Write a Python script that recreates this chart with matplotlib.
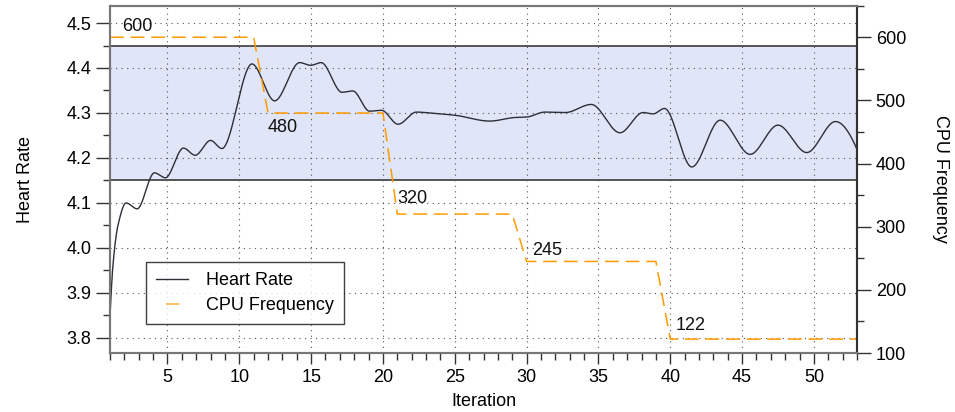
import numpy as np
import matplotlib
matplotlib.use("Agg")
import matplotlib.pyplot as plt
from matplotlib.lines import Line2D
from matplotlib.ticker import MultipleLocator

plt.rcParams['font.family'] = ['Liberation Sans', 'DejaVu Sans']

# heart rate samples (iteration, value)
hr_iter = [1.0, 1.2, 1.55, 2.12, 2.89, 4.09, 4.86, 6.11, 6.93, 8.0, 8.79,
           10.88, 12.46, 14.2, 14.97, 15.7, 17.15, 17.9, 19.07, 19.9, 21.05,
           22.33, 23.6, 25.0, 27.44, 29.2, 30.0, 31.27, 32.7, 34.5, 36.5,
           38.1, 38.8, 39.6, 41.5, 43.47, 45.56, 47.5, 49.5, 51.5, 53.0]
hr_value = [3.848, 3.96, 4.05, 4.100, 4.087, 4.167, 4.156, 4.222, 4.206, 4.239, 4.221,
            4.409, 4.327, 4.412, 4.406, 4.412, 4.346, 4.349, 4.304, 4.306, 4.275,
            4.302, 4.299, 4.295, 4.282, 4.290, 4.291, 4.302, 4.301, 4.319, 4.256,
            4.301, 4.298, 4.310, 4.180, 4.284, 4.208, 4.273, 4.212, 4.281, 4.219]

# CPU frequency steps: first and last iteration of each level
step_first = [1, 12, 21, 30, 40]
step_last = [11, 20, 29, 39, 53]
step_freq = [600, 480, 320, 245, 122]
label_offsets = [(12, 11), (0, -14), (0, 16), (6, 11), (5, 14)]

# target heart rate band
band_low, band_high = 4.15, 4.45


def pchip(x, y, xn):
    # shape preserving cubic through the samples
    x = np.asarray(x, float)
    y = np.asarray(y, float)
    h = np.diff(x)
    d = np.diff(y) / h
    n = len(x)
    m = np.zeros(n)
    for k in range(1, n - 1):
        if d[k - 1] * d[k] > 0:
            w1 = 2 * h[k] + h[k - 1]
            w2 = h[k] + 2 * h[k - 1]
            m[k] = (w1 + w2) / (w1 / d[k - 1] + w2 / d[k])
    m[0] = ((2 * h[0] + h[1]) * d[0] - h[0] * d[1]) / (h[0] + h[1])
    if np.sign(m[0]) != np.sign(d[0]):
        m[0] = 0
    m[-1] = ((2 * h[-1] + h[-2]) * d[-1] - h[-1] * d[-2]) / (h[-1] + h[-2])
    if np.sign(m[-1]) != np.sign(d[-1]):
        m[-1] = 0
    idx = np.clip(np.searchsorted(x, xn) - 1, 0, n - 2)
    t = (xn - x[idx]) / h[idx]
    h00 = 2 * t**3 - 3 * t**2 + 1
    h10 = t**3 - 2 * t**2 + t
    h01 = -2 * t**3 + 3 * t**2
    h11 = t**3 - t**2
    return (h00 * y[idx] + h10 * h[idx] * m[idx]
            + h01 * y[idx + 1] + h11 * h[idx] * m[idx + 1])


iters = np.arange(1, 54)
freq = np.zeros(len(iters))
for a, b, f in zip(step_first, step_last, step_freq):
    freq[(iters >= a) & (iters <= b)] = f

xs = np.linspace(1, 53, 1200)
hr_smooth = pchip(hr_iter, hr_value, xs)

fig = plt.figure(figsize=(9.55, 4.12), dpi=100)
ax = fig.add_axes([0.1152, 0.1432, 0.7822, 0.8430])
ax2 = ax.twinx()

spine_col = '#777777'
tick_col = '#333333'
fs = 13

ax.axhspan(band_low, band_high, color='#e0e5f7', zorder=0.2, lw=0)
ax.axhline(band_low, color='#555555', lw=1.4, zorder=0.6)
ax.axhline(band_high, color='#555555', lw=1.4, zorder=0.6)

hr_line, = ax.plot(xs, hr_smooth, color='#2e2e38', lw=1.0, zorder=2)

ax2.plot(iters, freq, color='#ff9a00', lw=1.1,
         linestyle=(0, (9, 4.5)), zorder=2)
for a, f, off in zip(step_first, step_freq, label_offsets):
    ax2.annotate(str(f), xy=(a, f), xytext=off, textcoords='offset pixels',
                 ha='left', va='center', fontsize=fs, color='#111111')

ax.set_xlim(1, 53)
ax.set_ylim(3.7665, 4.5385)
ax2.set_ylim(100, 650)

ax.xaxis.set_major_locator(MultipleLocator(5))
ax.xaxis.set_minor_locator(MultipleLocator(1))
ax.yaxis.set_major_locator(MultipleLocator(0.1))
ax.yaxis.set_minor_locator(MultipleLocator(0.05))
ax2.yaxis.set_major_locator(MultipleLocator(100))
ax2.yaxis.set_minor_locator(MultipleLocator(50))
ax.yaxis.set_major_formatter(plt.FormatStrFormatter('%.1f'))

ax.set_axisbelow(True)
ax.grid(True, which='major', color='#555555', lw=0.8,
        linestyle=(0, (1, 4)))

for a in (ax, ax2):
    a.tick_params(which='major', length=10, width=1, color=tick_col,
                  labelsize=fs, direction='out')
    a.tick_params(which='minor', length=5, width=1, color=tick_col,
                  direction='out')
    for s in a.spines.values():
        s.set_color(spine_col)
        s.set_linewidth(1.5)
ax.tick_params(axis='x', which='major', length=8)
ax.tick_params(axis='x', which='minor', length=5)
ax2.spines['right'].set_color('#333333')

ax.set_xlabel('Iteration', fontsize=fs, labelpad=5)
ax.set_ylabel('Heart Rate', fontsize=fs, labelpad=23)
ax2.set_ylabel('CPU Frequency', fontsize=fs, rotation=270, labelpad=31)

# legend handle for the frequency shows a single short dash
freq_handle = Line2D([], [], color='#ffb347', lw=1.2,
                     linestyle=(22, (8, 20)))
leg = ax2.legend([hr_line, freq_handle], ['Heart Rate', 'CPU Frequency'],
                 loc='lower left', bbox_to_anchor=(0.036, 0.057),
                 fontsize=fs, frameon=True, fancybox=False,
                 handlelength=1.8, handletextpad=1.0, borderpad=0.55,
                 labelspacing=0.45)
leg.get_frame().set_edgecolor('#111111')
leg.get_frame().set_linewidth(1.0)

fig.savefig('out.png', dpi=100)
